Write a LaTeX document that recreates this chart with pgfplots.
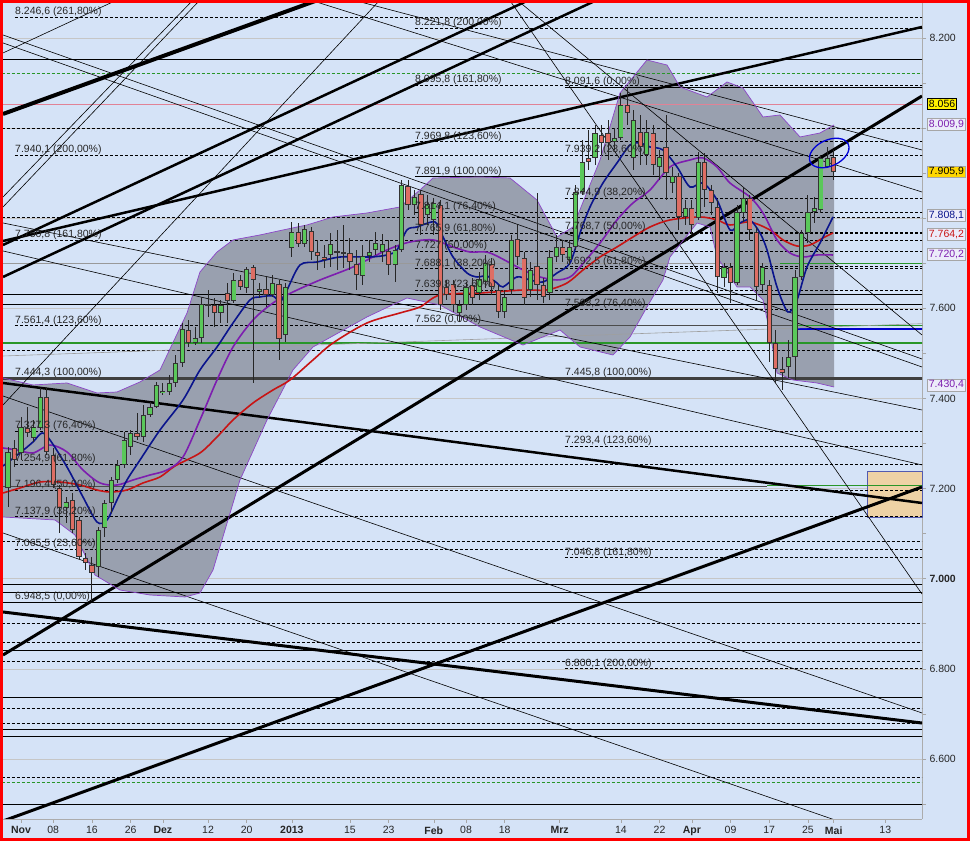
\documentclass[border=0pt]{standalone}
\usepackage{pgfplots}
\usepackage{pgfplotstable}
\pgfplotsset{compat=1.18}
\usetikzlibrary{shapes.geometric}
\usepackage{fontspec}
\setmainfont{Liberation Sans}

\definecolor{bg}{RGB}{213,227,247}
\definecolor{bandc}{RGB}{153,160,175}
\definecolor{cgreen}{RGB}{90,200,90}
\definecolor{cred}{RGB}{222,110,100}
\definecolor{mablue}{RGB}{10,20,140}
\definecolor{mapurple}{RGB}{125,30,175}
\definecolor{mared}{RGB}{200,20,20}
\definecolor{bandedge}{RGB}{140,70,200}
\definecolor{peach}{RGB}{238,210,165}
\definecolor{pinkl}{RGB}{225,130,150}
\definecolor{gline}{RGB}{40,150,40}
\definecolor{gold}{RGB}{255,215,0}
\definecolor{boxbg}{RGB}{236,236,250}

% candles: x = trading slot (0 = 1 Nov 2012)
\pgfplotstableread{
x o h l c
-2 7201.3 7292.3 7159.2 7281.2
0 7279.0 7358.9 7263.5 7336.7
2 7312.3 7352.2 7303.4 7336.7
3 7334.5 7423.2 7330.1 7403.3
7 7157.0 7181.4 7123.7 7170.3
12 7026.0 7114.8 7003.8 7108.1
13 7112.6 7174.7 7092.6 7168.0
14 7168.0 7225.8 7145.9 7219.1
15 7219.1 7263.5 7212.3 7252.4
16 7252.4 7325.6 7245.8 7307.8
17 7292.3 7330.1 7274.6 7323.4
19 7314.5 7385.5 7303.4 7363.3
20 7363.3 7392.2 7358.9 7381.1
21 7381.1 7436.6 7378.8 7429.9
22 7412.1 7434.3 7407.7 7416.6
23 7414.3 7452.1 7407.7 7434.3
24 7434.3 7496.5 7425.5 7478.7
25 7478.7 7567.5 7469.8 7554.2
27 7523.1 7558.6 7518.7 7534.2
28 7534.2 7625.2 7523.1 7609.6
31 7589.7 7618.5 7567.5 7607.4
33 7616.3 7678.5 7611.8 7663.0
35 7645.2 7691.8 7634.0 7687.4
37 7636.3 7656.2 7623.0 7643.0
39 7629.6 7674.0 7625.2 7656.2
41 7540.8 7656.2 7525.3 7647.4
42 7733.9 7791.6 7713.9 7769.4
44 7742.8 7785.0 7736.1 7776.1
48 7718.4 7767.2 7691.8 7742.8
49 7723.1 7773.9 7685.1 7727.5
53 7671.8 7740.6 7651.8 7716.2
54 7716.2 7751.7 7702.8 7725.0
55 7729.5 7769.4 7718.4 7745.0
56 7725.0 7765.0 7702.8 7742.8
58 7696.2 7740.6 7658.5 7729.5
59 7729.5 7884.8 7725.0 7873.8
61 7829.3 7862.6 7807.1 7847.1
63 7807.1 7851.5 7785.0 7831.6
64 7796.1 7844.9 7762.8 7833.8
68 7589.7 7618.5 7569.7 7607.4
69 7607.4 7658.5 7596.3 7647.4
71 7634.0 7680.7 7618.5 7665.1
72 7658.5 7718.4 7645.2 7700.6
75 7591.9 7640.7 7578.6 7625.2
76 7640.7 7762.8 7629.6 7751.7
79 7640.7 7702.8 7625.2 7685.1
82 7634.0 7729.5 7618.5 7713.9
83 7713.9 7762.8 7702.8 7736.1
85 7707.3 7751.7 7696.2 7736.1
86 7736.1 7873.8 7729.5 7858.2
87 7858.2 7973.6 7851.5 7924.8
89 7933.6 8006.9 7918.1 7989.1
92 7969.2 8000.3 7951.4 7978.0
93 7978.0 8077.9 7973.6 8051.3
95 7933.6 8040.2 7907.0 8018.0
97 7940.3 8018.0 7918.1 7991.4
99 7913.7 7951.4 7884.8 7935.9
101 7878.2 7913.7 7856.0 7893.7
103 7802.7 7840.4 7785.0 7822.7
105 7800.5 7947.0 7796.1 7924.8
109 7667.4 7700.6 7647.4 7691.8
111 7656.2 7829.3 7651.8 7813.8
112 7811.6 7867.1 7791.6 7844.9
115 7651.8 7700.6 7634.0 7691.8
119 7469.8 7529.8 7445.4 7492.0
120 7492.0 7685.1 7441.0 7669.6
121 7669.6 7773.9 7663.0 7767.2
122 7767.2 7851.5 7745.0 7813.8
123 7813.8 7847.1 7789.4 7822.7
124 7818.2 7940.3 7811.6 7933.6
125 7913.7 7958.1 7913.7 7933.6
}\upc

\pgfplotstableread{
x o h l c
-1 7290.1 7307.8 7248.0 7263.5
1 7334.5 7381.1 7314.5 7323.4
4 7403.3 7425.5 7274.6 7281.2
5 7274.6 7290.1 7201.3 7207.9
6 7201.3 7207.9 7101.5 7157.0
8 7174.7 7190.2 7101.5 7108.1
9 7130.3 7137.0 7041.5 7048.2
10 7046.0 7057.1 7019.4 7034.9
11 7030.5 7048.2 6950.5 7012.7
18 7323.4 7367.8 7307.8 7314.5
26 7551.9 7574.1 7514.2 7523.1
29 7609.6 7640.7 7580.8 7605.2
30 7607.4 7623.0 7558.6 7589.7
32 7634.0 7656.2 7567.5 7616.3
34 7663.0 7674.0 7640.7 7647.4
36 7691.8 7696.2 7434.3 7663.0
38 7643.0 7669.6 7602.9 7629.6
40 7654.0 7663.0 7485.4 7532.0
43 7769.4 7789.4 7736.1 7742.8
45 7771.6 7780.5 7707.3 7725.0
46 7725.0 7751.7 7685.1 7716.2
47 7713.9 7740.6 7689.6 7707.3
50 7725.0 7785.0 7689.6 7720.7
51 7723.1 7756.1 7685.1 7702.8
52 7698.4 7729.5 7640.7 7674.0
57 7727.5 7751.7 7674.0 7696.2
60 7871.5 7884.8 7818.2 7829.3
62 7853.8 7862.6 7762.8 7785.0
65 7829.3 7840.4 7596.3 7607.4
66 7647.4 7663.0 7618.5 7629.6
67 7654.0 7663.0 7591.9 7607.4
70 7651.8 7667.4 7607.4 7623.0
73 7698.4 7711.7 7629.6 7647.4
74 7640.7 7651.8 7578.6 7591.9
77 7753.9 7785.0 7696.2 7713.9
78 7711.7 7725.0 7607.4 7623.0
80 7694.0 7856.0 7618.5 7651.8
81 7651.8 7667.4 7611.8 7625.2
84 7736.1 7751.7 7702.8 7718.4
88 7933.6 7995.8 7907.0 7924.8
90 7984.7 8006.9 7940.3 7966.9
91 7989.1 8018.0 7929.2 7966.9
94 8051.3 8091.3 8006.9 8033.6
96 7991.4 8029.1 7918.1 7958.1
98 7989.1 8006.9 7895.9 7918.1
100 7958.1 8029.1 7840.4 7900.0
102 7893.7 7900.0 7773.9 7802.7
104 7822.7 7840.4 7762.8 7785.0
106 7924.8 7944.7 7824.9 7862.6
107 7862.6 7873.8 7807.1 7833.8
108 7824.9 7840.4 7634.0 7669.6
110 7691.8 7700.6 7611.8 7656.2
113 7844.9 7851.5 7751.7 7773.9
114 7769.4 7780.5 7618.5 7647.4
116 7651.8 7663.0 7480.9 7523.1
117 7523.1 7551.9 7434.3 7465.4
118 7465.4 7492.0 7418.8 7456.5
126 7935.9 7951.4 7884.8 7902.2
}\downc

\pgfplotstableread{
x y
-2.79 7445.4
1.86 7429.9
7.13 7434.3
11.78 7412.1
14.88 7414.3
18.45 7436.6
21.55 7463.2
25.74 7589.7
27.75 7680.7
30.39 7725.0
32.87 7751.7
37.05 7762.8
40.62 7773.9
44.34 7785.0
48.37 7802.7
53.64 7811.6
58.76 7824.9
61.86 7862.6
63.88 7889.3
71.16 7891.5
75.81 7889.3
80.00 7840.4
83.10 7758.3
85.58 7780.5
89.77 7929.2
92.87 8077.9
97.05 8151.1
100.16 8140.0
102.17 8091.2
106.36 8069.0
109.46 8102.3
111.94 8089.0
115.04 8024.6
117.67 8029.1
120.78 7980.3
123.88 7989.1
126.05 8006.9
}\bandup

\pgfplotstableread{
x y
-2.79 7136.9
5.27 7130.3
8.37 7097.0
11.47 7008.2
15.35 6974.9
20.00 6963.8
25.43 6959.4
27.75 6968.3
29.77 7019.3
33.95 7219.0
38.14 7352.2
42.17 7463.2
45.27 7514.2
53.64 7580.8
59.84 7622.9
64.96 7607.4
71.16 7558.6
77.83 7518.6
83.57 7551.9
86.67 7514.2
91.78 7496.4
94.42 7536.4
97.05 7603.0
99.53 7662.9
100.62 7713.9
104.81 7789.4
106.82 7780.5
107.91 7713.9
111.01 7647.4
113.02 7647.4
115.04 7618.5
116.12 7545.3
117.21 7456.5
119.69 7441.0
123.41 7434.3
126.05 7425.4
}\bandlo

% band outline: upper edge left to right, then lower edge right to left
\pgfplotstableread{
x y
-2.79 7445.4
1.86 7429.9
7.13 7434.3
11.78 7412.1
14.88 7414.3
18.45 7436.6
21.55 7463.2
25.74 7589.7
27.75 7680.7
30.39 7725.0
32.87 7751.7
37.05 7762.8
40.62 7773.9
44.34 7785.0
48.37 7802.7
53.64 7811.6
58.76 7824.9
61.86 7862.6
63.88 7889.3
71.16 7891.5
75.81 7889.3
80.00 7840.4
83.10 7758.3
85.58 7780.5
89.77 7929.2
92.87 8077.9
97.05 8151.1
100.16 8140.0
102.17 8091.2
106.36 8069.0
109.46 8102.3
111.94 8089.0
115.04 8024.6
117.67 8029.1
120.78 7980.3
123.88 7989.1
126.05 8006.9
126.05 7425.4
123.41 7434.3
119.69 7441.0
117.21 7456.5
116.12 7545.3
115.04 7618.5
113.02 7647.4
111.01 7647.4
107.91 7713.9
106.82 7780.5
104.81 7789.4
100.62 7713.9
99.53 7662.9
97.05 7603.0
94.42 7536.4
91.78 7496.4
86.67 7514.2
83.57 7551.9
77.83 7518.6
71.16 7558.6
64.96 7607.4
59.84 7622.9
53.64 7580.8
45.27 7514.2
42.17 7463.2
38.14 7352.2
33.95 7219.0
29.77 7019.3
27.75 6968.3
25.43 6959.4
20.00 6963.8
15.35 6974.9
11.47 7008.2
8.37 7097.0
5.27 7130.3
-2.79 7136.9
}\bandpoly

\newcommand{\hl}[4]{\addplot[#1, forget plot] coordinates {(#2,#4) (#3,#4)};}

\tikzset{
  fl/.style={anchor=base west, inner sep=0pt, yshift=2.5pt, text=black!85,
    font=\fontsize{10.5}{12}\selectfont},
  rb/.style={anchor=west, inner sep=1.6pt, xshift=5pt, line width=0.6pt,
    font=\fontsize{10.5}{12}\selectfont},
}

\begin{document}
\begin{tikzpicture}
\fill[bg] (0,0) rectangle (970pt,841pt);
\begin{axis}[
  at={(3pt,22pt)}, anchor=south west,
  scale only axis, width=919pt, height=816pt,
  xmin=-2.79, xmax=139.69, ymin=6466.7, ymax=8277.6,
  axis x line*=bottom, axis y line*=right,
  axis line style={draw=gray!65, line width=0.8pt, -},
  xtick={0,5,11,17,22,29,35,42,51,57,64,69,75,83.5,93,99,104,110,116,122,126,134},
  xticklabels={\textbf{Nov},08,16,26,\textbf{Dez},12,20,\textbf{2013},15,23,\textbf{Feb},08,18,\textbf{Mrz},14,22,\textbf{Apr},09,17,25,\textbf{Mai},13},
  ytick={6600,6800,...,8200},
  yticklabels={6.600,6.800,\textbf{7.000},7.200,7.400,7.600,{},{},8.200},
  minor ytick={6500,6700,...,8100},
  tick style={draw=gray!70, line width=0.6pt},
  major tick length=4pt, minor tick length=4pt,
  tick align=outside,
  ymajorgrids, grid style={draw=gray!45, line width=0.6pt},
  xticklabel style={font=\fontsize{10.5}{12}\selectfont, text=black!85},
  yticklabel style={font=\fontsize{10.5}{12}\selectfont, text=black!85},
  clip mode=individual,
]

% Bollinger band fill
\addplot[fill=bandc, draw=none, forget plot] table {\bandpoly};

\filldraw[fill=peach, draw=mablue!70, line width=0.6pt] (axis cs:131.2,7239.0) rectangle (axis cs:139.69,7136.9);

% horizontal support / resistance lines
\pgfplotsset{hs/.style={black, line width=0.6pt}, hd/.style={black, line width=0.6pt, dash pattern=on 3pt off 2pt}}
\hl{hs}{-3}{140}{8153.4}
\hl{gline, line width=0.6pt, dash pattern=on 3pt off 2pt}{-3}{140}{8122.3}
\hl{pinkl, line width=0.6pt}{-3}{140}{8053.5}
\hl{hd}{-3}{140}{8000.2}
\hl{hd}{-3}{140}{7802.7}
\hl{gray!80, line width=0.6pt}{-3}{117.67}{7700.6}
\hl{gline, line width=0.8pt}{117.67}{140}{7700.6}
\hl{hs}{-3}{140}{7630.7}
\hl{hs}{-3}{140}{7609.6}
\hl{gline, line width=1.2pt}{-3}{140}{7523.1}
\hl{hd}{-3}{140}{7507.5}
\hl{black!75, line width=2.2pt}{-3}{140}{7444.3}
\hl{black!70, line width=0.8pt}{-3}{115.66}{7205.7}
\hl{gline, line width=1pt}{115.66}{140}{7205.7}
\hl{hd}{-3}{140}{7083.7}
\hl{hs}{-3}{140}{6988.2}
\hl{hs}{-3}{140}{6970.4}
\hl{hs}{-3}{140}{6948.5}
\hl{hd}{-3}{140}{6901.7}
\hl{hd}{-3}{140}{6859.5}
\hl{hs}{-3}{140}{6841.8}
\hl{hd}{-3}{140}{6817.4}
\hl{hs}{-3}{140}{6737.4}
\hl{hd}{-3}{140}{6713.0}
\hl{hd}{-3}{140}{6679.7}
\hl{hs}{-3}{140}{6666.4}
\hl{hs}{-3}{140}{6650.8}
\hl{hd}{-3}{140}{6559.9}
\hl{gline, line width=0.6pt, dash pattern=on 3pt off 2pt}{-3}{140}{6548.8}
\hl{hs}{-3}{140}{6500.0}
% fib set 1 (from 6948,5 to 7444,3)
\hl{hd}{-0.93}{140}{8246.6}
\hl{hd}{-0.93}{140}{7940.1}
\hl{hd}{-0.93}{140}{7750.8}
\hl{hd}{-0.93}{140}{7561.4}
\hl{hd}{-0.93}{140}{7327.3}
\hl{hd}{-0.93}{140}{7254.9}
\hl{hd}{-0.93}{140}{7196.4}
\hl{hd}{-0.93}{140}{7137.9}
\hl{hd}{-0.93}{140}{7065.5}
% fib set 3 (from 7562 to 7891,9)
\hl{hd}{61.09}{140}{8221.8}
\hl{hd}{61.09}{140}{8095.8}
\hl{hd}{61.09}{140}{7969.8}
\hl{hs}{61.09}{140}{7891.9}
\hl{hd}{61.09}{140}{7814.1}
\hl{hd}{61.09}{140}{7765.9}
\hl{hd}{61.09}{140}{7727.0}
\hl{hd}{61.09}{140}{7688.1}
\hl{hd}{61.09}{140}{7639.8}
\hl{black!70, line width=1.3pt}{61.09}{140}{7562.0}
\hl{gline, line width=1pt}{120.31}{140}{7562.0}
% fib set 2 (from 8091,6 to 7445,8)
\hl{hs}{84.34}{140}{8091.6}
\hl{hd}{84.34}{140}{7939.2}
\hl{hd}{84.34}{140}{7844.9}
\hl{hd}{84.34}{140}{7768.7}
\hl{hd}{84.34}{140}{7692.5}
\hl{hd}{84.34}{140}{7598.2}
\hl{hd}{84.34}{140}{7293.4}
\hl{hd}{84.34}{140}{7046.7}
\hl{hd}{84.34}{140}{6800.1}
\hl{blue!80!black, line width=2pt}{120.31}{140}{7554.1}

% slanted gray line
\addplot[gray!75, line width=0.6pt, forget plot] coordinates {(-2.79,7494.2) (139.69,7566.0)};

% thick trend lines
\addplot[black, line width=3pt, forget plot] coordinates {(-2.79,6830.7) (139.69,8071.2)};
\addplot[black, line width=3pt, forget plot] coordinates {(-2.79,6462.2) (139.69,7203.5)};
\addplot[black, line width=2.5pt, forget plot] coordinates {(-2.79,7434.3) (139.69,7168.0)};
\addplot[black, line width=3pt, forget plot] coordinates {(-2.79,6926.1) (139.69,6679.7)};
\addplot[black, line width=4pt, forget plot] coordinates {(-2.79,8031.3) (46.05,8284.3)};
\addplot[black, line width=2.5pt, forget plot] coordinates {(-2.79,7749.4) (139.69,8224.4)};
\addplot[black, line width=2.5pt, forget plot] coordinates {(-2.79,7740.6) (78.76,8284.3)};
\addplot[black, line width=2.5pt, forget plot] coordinates {(-2.79,7669.6) (89.30,8284.3)};
% thin trend lines
\pgfplotsset{tl/.style={black, line width=0.6pt, forget plot}}
\addplot[tl] coordinates {(-2.79,7405.4) (139.69,6702.0)};
\addplot[tl] coordinates {(-2.79,7101.4) (139.69,6397.9)};
\addplot[tl] coordinates {(75.74,8284.3) (139.69,6966.0)};
\addplot[tl] coordinates {(-2.79,7385.5) (55.66,8284.3)};
\addplot[tl] coordinates {(-2.79,7847.1) (26.67,8284.3)};
\addplot[tl] coordinates {(-2.79,7824.9) (27.75,8284.3)};
\addplot[tl] coordinates {(-2.79,8166.7) (14.88,8284.3)};
\addplot[tl] coordinates {(-2.79,8206.6) (139.69,7487.6)};
\addplot[tl] coordinates {(-2.79,8188.9) (139.69,7469.8)};
\addplot[tl] coordinates {(-2.79,7789.4) (139.69,7374.4)};
\addplot[tl] coordinates {(-2.79,7727.3) (139.69,7252.4)};
\addplot[tl] coordinates {(44.81,8284.3) (139.69,7858.2)};
\addplot[tl] coordinates {(51.47,8284.3) (139.69,7951.4)};
\addplot[tl] coordinates {(76.90,8284.3) (139.69,7540.8)};

% band edges
\addplot[bandedge, line width=0.7pt, forget plot] table {\bandup};
\addplot[bandedge, line width=0.7pt, forget plot] table {\bandlo};

% moving averages
\addplot[mared, line width=1.6pt, smooth, forget plot] coordinates {
(-2.79,7190.2) (-0.16,7201.3) (2.95,7214.6) (6.05,7214.6) (9.15,7207.9) (11.78,7196.8)
(13.80,7192.4) (16.43,7196.8) (18.91,7212.4) (21.55,7225.7) (23.88,7250.1) (27.75,7279.0)
(30.39,7314.5) (32.87,7352.2) (35.97,7389.9) (39.07,7418.8) (41.71,7441.0) (45.27,7485.4)
(48.37,7523.1) (53.64,7567.5) (58.76,7589.7) (61.86,7603.0) (64.96,7629.6) (71.16,7634.0)
(77.83,7640.7) (81.55,7640.7) (84.65,7656.2) (87.13,7685.1) (89.77,7713.9) (92.40,7736.1)
(94.88,7758.3) (97.52,7780.5) (100.62,7796.1) (105.27,7802.7) (107.91,7796.1) (109.92,7785.0)
(113.02,7791.6) (116.12,7773.9) (118.14,7751.7) (120.31,7738.3) (122.33,7740.6) (124.34,7756.1)
(125.89,7767.2)};
\addplot[mapurple, line width=1.6pt, smooth, forget plot] coordinates {
(-2.79,7290.1) (-0.62,7285.6) (1.86,7279.0) (4.50,7296.7) (7.13,7281.2) (9.61,7241.2)
(12.25,7212.4) (14.88,7207.9) (17.36,7219.0) (20.00,7230.1) (22.64,7241.2) (25.12,7270.1)
(27.75,7352.2) (30.39,7441.0) (32.87,7514.2) (35.97,7574.1) (39.07,7611.9) (42.17,7636.3)
(46.36,7662.9) (51.47,7691.7) (56.74,7729.5) (60.31,7747.2) (63.88,7751.7) (66.98,7736.1)
(69.61,7725.0) (72.71,7722.8) (77.83,7685.1) (80.47,7669.6) (83.10,7662.9) (85.12,7669.6)
(86.67,7691.7) (89.77,7745.0) (92.40,7796.1) (94.88,7833.8) (97.52,7862.6) (100.62,7913.7)
(103.72,7929.2) (105.74,7933.7) (107.91,7913.7) (109.92,7878.2) (113.02,7847.1) (115.04,7811.6)
(117.21,7751.7) (119.22,7722.8) (121.24,7713.9) (123.41,7718.4) (125.89,7718.4)};
\addplot[mablue, line width=1.6pt, smooth, forget plot] coordinates {
(-2.79,7250.1) (-0.16,7279.0) (1.86,7303.4) (3.26,7323.3) (4.50,7307.8) (7.13,7247.9)
(9.61,7181.3) (11.78,7125.8) (13.33,7130.3) (14.88,7174.6) (16.43,7219.0) (18.45,7263.4)
(21.55,7330.0) (25.12,7396.6) (27.75,7463.2) (30.39,7514.2) (32.87,7567.5) (35.50,7618.5)
(37.05,7625.2) (39.07,7627.4) (40.16,7614.1) (41.24,7640.7) (43.26,7696.2) (45.89,7702.8)
(49.46,7713.9) (54.11,7713.9) (56.74,7718.4) (58.29,7729.5) (59.84,7773.9) (61.40,7780.5)
(64.19,7791.6) (65.43,7758.3) (66.98,7713.9) (69.15,7678.4) (70.70,7669.6) (72.25,7671.8)
(73.80,7656.2) (74.73,7647.4) (76.90,7669.6) (78.91,7662.9) (80.93,7658.5) (83.10,7678.4)
(85.12,7700.6) (86.67,7767.2) (88.22,7824.9) (90.23,7878.2) (92.40,7922.6) (94.42,7962.5)
(95.97,7966.9) (97.52,7958.1) (99.53,7951.4) (101.71,7913.7) (103.72,7869.3) (105.74,7878.2)
(107.91,7840.4) (109.92,7773.9) (111.47,7789.4) (113.02,7796.1) (114.57,7767.2) (115.66,7729.5)
(117.21,7647.4) (118.91,7591.9) (120.31,7618.5) (121.86,7691.7) (123.88,7745.0) (125.89,7802.7)};

% candles: wicks, body outline, body fill
\pgfplotsset{
  wick/.style={draw=none, mark=none, forget plot, error bars/.cd, y dir=both, y explicit,
    error mark=none, error bar style={draw=black!85, line width=0.9pt}},
  body/.style={draw=none, mark=none, forget plot, error bars/.cd, y dir=both, y explicit,
    error mark=none, error bar style={draw=#1, line width=5.2pt}},
  fillb/.style={draw=none, mark=none, forget plot, error bars/.cd, y dir=both, y explicit,
    error mark=none, error bar style={draw=#1, line width=3.4pt}},
}
\addplot[wick] table[x=x, y expr={(\thisrow{h}+\thisrow{l})/2}, y error expr={(\thisrow{h}-\thisrow{l})/2}] {\upc};
\addplot[wick] table[x=x, y expr={(\thisrow{h}+\thisrow{l})/2}, y error expr={(\thisrow{h}-\thisrow{l})/2}] {\downc};
\addplot[body=black!80] table[x=x, y expr={(\thisrow{o}+\thisrow{c})/2}, y error expr={max(abs(\thisrow{c}-\thisrow{o})/2,1.5)}] {\upc};
\addplot[body=black!80] table[x=x, y expr={(\thisrow{o}+\thisrow{c})/2}, y error expr={max(abs(\thisrow{c}-\thisrow{o})/2,1.5)}] {\downc};
\addplot[fillb=cgreen] table[x=x, y expr={(\thisrow{o}+\thisrow{c})/2}, y error expr={max(abs(\thisrow{c}-\thisrow{o})/2-2.2,0)}] {\upc};
\addplot[fillb=cred] table[x=x, y expr={(\thisrow{o}+\thisrow{c})/2}, y error expr={max(abs(\thisrow{c}-\thisrow{o})/2-2.2,0)}] {\downc};

% fibonacci labels
\node[fl] at (axis cs:-0.93,8246.6) {8.246,6 (261,80\%)};
\node[fl] at (axis cs:-0.93,7940.1) {7.940,1 (200,00\%)};
\node[fl] at (axis cs:-0.93,7750.8) {7.750,8 (161,80\%)};
\node[fl] at (axis cs:-0.93,7561.4) {7.561,4 (123,60\%)};
\node[fl] at (axis cs:-0.93,7444.3) {7.444,3 (100,00\%)};
\node[fl] at (axis cs:-0.93,7327.3) {7.327,3 (76,40\%)};
\node[fl] at (axis cs:-0.93,7254.9) {7.254,9 (61,80\%)};
\node[fl] at (axis cs:-0.93,7196.4) {7.196,4 (50,00\%)};
\node[fl] at (axis cs:-0.93,7137.9) {7.137,9 (38,20\%)};
\node[fl] at (axis cs:-0.93,7065.5) {7.065,5 (23,60\%)};
\node[fl] at (axis cs:-0.93,6948.5) {6.948,5 (0,00\%)};
\node[fl] at (axis cs:61.09,8221.8) {8.221,8 (200,00\%)};
\node[fl] at (axis cs:61.09,8095.8) {8.095,8 (161,80\%)};
\node[fl] at (axis cs:61.09,7969.8) {7.969,8 (123,60\%)};
\node[fl] at (axis cs:61.09,7891.9) {7.891,9 (100,00\%)};
\node[fl] at (axis cs:61.09,7814.1) {7.814,1 (76,40\%)};
\node[fl] at (axis cs:61.09,7765.9) {7.765,9 (61,80\%)};
\node[fl] at (axis cs:61.09,7727.0) {7.727 (50,00\%)};
\node[fl] at (axis cs:61.09,7688.1) {7.688,1 (38,20\%)};
\node[fl] at (axis cs:61.09,7639.8) {7.639,8 (23,60\%)};
\node[fl] at (axis cs:61.09,7562.0) {7.562 (0,00\%)};
\node[fl] at (axis cs:84.34,8091.6) {8.091,6 (0,00\%)};
\node[fl] at (axis cs:84.34,7939.2) {7.939,2 (23,60\%)};
\node[fl] at (axis cs:84.34,7844.9) {7.844,9 (38,20\%)};
\node[fl] at (axis cs:84.34,7768.7) {7.768,7 (50,00\%)};
\node[fl] at (axis cs:84.34,7692.5) {7.692,5 (61,80\%)};
\node[fl] at (axis cs:84.34,7598.2) {7.598,2 (76,40\%)};
\node[fl] at (axis cs:84.34,7445.8) {7.445,8 (100,00\%)};
\node[fl] at (axis cs:84.34,7293.4) {7.293,4 (123,60\%)};
\node[fl] at (axis cs:84.34,7046.7) {7.046,8 (161,80\%)};
\node[fl] at (axis cs:84.34,6800.1) {6.800,1 (200,00\%)};

% marked area
\node[draw=blue!85!black, line width=1.3pt, ellipse, minimum width=42pt, minimum height=26pt, rotate=25, inner sep=0pt] at (axis cs:125.3,7944.7) {};

% value boxes on the price axis
\node[rb, draw=black, fill=yellow, text=black] at (axis cs:139.69,8053.5) {8.056};
\node[rb, draw=gray!70, fill=boxbg, text=mapurple] at (axis cs:139.69,8008.0) {8.009,9};
\node[rb, draw=gray!70, fill=gold, text=black] at (axis cs:139.69,7903.0) {7.905,9};
\node[rb, draw=gray!70, fill=boxbg, text=mablue] at (axis cs:139.69,7807.0) {7.808,1};
\node[rb, draw=gray!70, fill=boxbg, text=mared] at (axis cs:139.69,7763.9) {7.764,2};
\node[rb, draw=gray!70, fill=boxbg, text=mapurple] at (axis cs:139.69,7719.5) {7.720,2};
\node[rb, draw=gray!70, fill=boxbg, text=mapurple] at (axis cs:139.69,7429.9) {7.430,4};
\end{axis}
\draw[red, line width=3pt] (1.5pt,1.5pt) rectangle (968.5pt,839.5pt);
\pgfresetboundingbox
\path[use as bounding box] (0,0) rectangle (970pt,841pt);
\end{tikzpicture}
\end{document}
